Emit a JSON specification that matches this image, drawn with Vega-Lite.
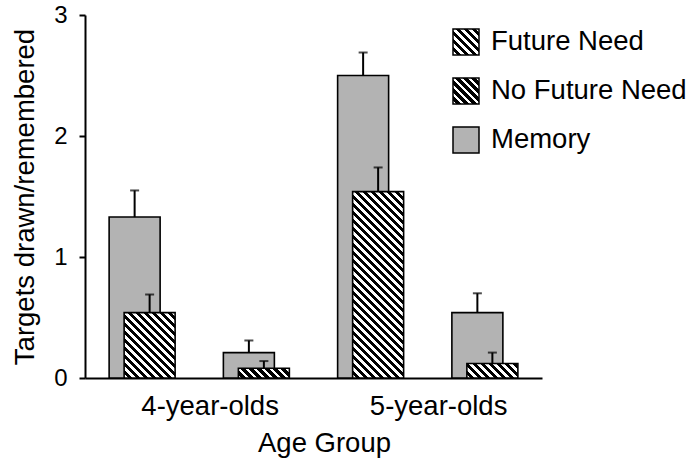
{
  "$schema": "https://vega.github.io/schema/vega-lite/v6.json",
  "width": 457,
  "height": 363,
  "autosize": "none",
  "padding": {"left": 85, "top": 15, "right": 150, "bottom": 85},
  "background": "white",
  "config": {
    "view": {"stroke": null},
    "font": "Liberation Sans",
    "axis": {"labelFont": "Liberation Sans", "titleFont": "Liberation Sans", "labelColor": "black", "titleColor": "black", "titleFontWeight": "normal", "grid": false, "domainColor": "black", "domainWidth": 2, "tickColor": "black", "tickWidth": 2},
    "legend": {"labelFont": "Liberation Sans", "labelColor": "black"}
  },
  "params": [
    {"name": "stopsFN", "value": [
      {"offset":0,"color":"#fff"},{"offset":0.0135,"color":"#fff"},{"offset":0.0135,"color":"#000"},{"offset":0.025,"color":"#000"},
      {"offset":0.025,"color":"#fff"},{"offset":0.0385,"color":"#fff"},{"offset":0.0385,"color":"#000"},{"offset":0.05,"color":"#000"},
      {"offset":0.05,"color":"#fff"},{"offset":0.0635,"color":"#fff"},{"offset":0.0635,"color":"#000"},{"offset":0.075,"color":"#000"},
      {"offset":0.075,"color":"#fff"},{"offset":0.0885,"color":"#fff"},{"offset":0.0885,"color":"#000"},{"offset":0.1,"color":"#000"},
      {"offset":0.1,"color":"#fff"},{"offset":0.1135,"color":"#fff"},{"offset":0.1135,"color":"#000"},{"offset":0.125,"color":"#000"},
      {"offset":0.125,"color":"#fff"},{"offset":0.1385,"color":"#fff"},{"offset":0.1385,"color":"#000"},{"offset":0.15,"color":"#000"},
      {"offset":0.15,"color":"#fff"},{"offset":0.1635,"color":"#fff"},{"offset":0.1635,"color":"#000"},{"offset":0.175,"color":"#000"},
      {"offset":0.175,"color":"#fff"},{"offset":0.1885,"color":"#fff"},{"offset":0.1885,"color":"#000"},{"offset":0.2,"color":"#000"},
      {"offset":0.2,"color":"#fff"},{"offset":0.2135,"color":"#fff"},{"offset":0.2135,"color":"#000"},{"offset":0.225,"color":"#000"},
      {"offset":0.225,"color":"#fff"},{"offset":0.2385,"color":"#fff"},{"offset":0.2385,"color":"#000"},{"offset":0.25,"color":"#000"},
      {"offset":0.25,"color":"#fff"},{"offset":0.2635,"color":"#fff"},{"offset":0.2635,"color":"#000"},{"offset":0.275,"color":"#000"},
      {"offset":0.275,"color":"#fff"},{"offset":0.2885,"color":"#fff"},{"offset":0.2885,"color":"#000"},{"offset":0.3,"color":"#000"},
      {"offset":0.3,"color":"#fff"},{"offset":0.3135,"color":"#fff"},{"offset":0.3135,"color":"#000"},{"offset":0.325,"color":"#000"},
      {"offset":0.325,"color":"#fff"},{"offset":0.3385,"color":"#fff"},{"offset":0.3385,"color":"#000"},{"offset":0.35,"color":"#000"},
      {"offset":0.35,"color":"#fff"},{"offset":0.3635,"color":"#fff"},{"offset":0.3635,"color":"#000"},{"offset":0.375,"color":"#000"},
      {"offset":0.375,"color":"#fff"},{"offset":0.3885,"color":"#fff"},{"offset":0.3885,"color":"#000"},{"offset":0.4,"color":"#000"},
      {"offset":0.4,"color":"#fff"},{"offset":0.4135,"color":"#fff"},{"offset":0.4135,"color":"#000"},{"offset":0.425,"color":"#000"},
      {"offset":0.425,"color":"#fff"},{"offset":0.4385,"color":"#fff"},{"offset":0.4385,"color":"#000"},{"offset":0.45,"color":"#000"},
      {"offset":0.45,"color":"#fff"},{"offset":0.4635,"color":"#fff"},{"offset":0.4635,"color":"#000"},{"offset":0.475,"color":"#000"},
      {"offset":0.475,"color":"#fff"},{"offset":0.4885,"color":"#fff"},{"offset":0.4885,"color":"#000"},{"offset":0.5,"color":"#000"},
      {"offset":0.5,"color":"#fff"},{"offset":0.5135,"color":"#fff"},{"offset":0.5135,"color":"#000"},{"offset":0.525,"color":"#000"},
      {"offset":0.525,"color":"#fff"},{"offset":0.5385,"color":"#fff"},{"offset":0.5385,"color":"#000"},{"offset":0.55,"color":"#000"},
      {"offset":0.55,"color":"#fff"},{"offset":0.5635,"color":"#fff"},{"offset":0.5635,"color":"#000"},{"offset":0.575,"color":"#000"},
      {"offset":0.575,"color":"#fff"},{"offset":0.5885,"color":"#fff"},{"offset":0.5885,"color":"#000"},{"offset":0.6,"color":"#000"},
      {"offset":0.6,"color":"#fff"},{"offset":0.6135,"color":"#fff"},{"offset":0.6135,"color":"#000"},{"offset":0.625,"color":"#000"},
      {"offset":0.625,"color":"#fff"},{"offset":0.6385,"color":"#fff"},{"offset":0.6385,"color":"#000"},{"offset":0.65,"color":"#000"},
      {"offset":0.65,"color":"#fff"},{"offset":0.6635,"color":"#fff"},{"offset":0.6635,"color":"#000"},{"offset":0.675,"color":"#000"},
      {"offset":0.675,"color":"#fff"},{"offset":0.6885,"color":"#fff"},{"offset":0.6885,"color":"#000"},{"offset":0.7,"color":"#000"},
      {"offset":0.7,"color":"#fff"},{"offset":0.7135,"color":"#fff"},{"offset":0.7135,"color":"#000"},{"offset":0.725,"color":"#000"},
      {"offset":0.725,"color":"#fff"},{"offset":0.7385,"color":"#fff"},{"offset":0.7385,"color":"#000"},{"offset":0.75,"color":"#000"},
      {"offset":0.75,"color":"#fff"},{"offset":0.7635,"color":"#fff"},{"offset":0.7635,"color":"#000"},{"offset":0.775,"color":"#000"},
      {"offset":0.775,"color":"#fff"},{"offset":0.7885,"color":"#fff"},{"offset":0.7885,"color":"#000"},{"offset":0.8,"color":"#000"}
    ]},
    {"name": "stopsNoFN", "value": [
      {"offset":0,"color":"#fff"},{"offset":0.01,"color":"#fff"},{"offset":0.01,"color":"#000"},{"offset":0.025,"color":"#000"},
      {"offset":0.025,"color":"#fff"},{"offset":0.035,"color":"#fff"},{"offset":0.035,"color":"#000"},{"offset":0.05,"color":"#000"},
      {"offset":0.05,"color":"#fff"},{"offset":0.06,"color":"#fff"},{"offset":0.06,"color":"#000"},{"offset":0.075,"color":"#000"},
      {"offset":0.075,"color":"#fff"},{"offset":0.085,"color":"#fff"},{"offset":0.085,"color":"#000"},{"offset":0.1,"color":"#000"},
      {"offset":0.1,"color":"#fff"},{"offset":0.11,"color":"#fff"},{"offset":0.11,"color":"#000"},{"offset":0.125,"color":"#000"},
      {"offset":0.125,"color":"#fff"},{"offset":0.135,"color":"#fff"},{"offset":0.135,"color":"#000"},{"offset":0.15,"color":"#000"},
      {"offset":0.15,"color":"#fff"},{"offset":0.16,"color":"#fff"},{"offset":0.16,"color":"#000"},{"offset":0.175,"color":"#000"},
      {"offset":0.175,"color":"#fff"},{"offset":0.185,"color":"#fff"},{"offset":0.185,"color":"#000"},{"offset":0.2,"color":"#000"},
      {"offset":0.2,"color":"#fff"},{"offset":0.21,"color":"#fff"},{"offset":0.21,"color":"#000"},{"offset":0.225,"color":"#000"},
      {"offset":0.225,"color":"#fff"},{"offset":0.235,"color":"#fff"},{"offset":0.235,"color":"#000"},{"offset":0.25,"color":"#000"},
      {"offset":0.25,"color":"#fff"},{"offset":0.26,"color":"#fff"},{"offset":0.26,"color":"#000"},{"offset":0.275,"color":"#000"}
    ]}
  ],
  "data": {"values": [
    {"slot": "4a", "age": "4-year-olds", "cond": "Future Need", "memory": 1.33, "memoryUpper": 1.55, "drawn": 0.54, "drawnUpper": 0.69},
    {"slot": "4b", "age": "4-year-olds", "cond": "No Future Need", "memory": 0.21, "memoryUpper": 0.31, "drawn": 0.08, "drawnUpper": 0.14},
    {"slot": "5a", "age": "5-year-olds", "cond": "Future Need", "memory": 2.5, "memoryUpper": 2.69, "drawn": 1.54, "drawnUpper": 1.74},
    {"slot": "5b", "age": "5-year-olds", "cond": "No Future Need", "memory": 0.54, "memoryUpper": 0.7, "drawn": 0.12, "drawnUpper": 0.21}
  ]},
  "encoding": {
    "x": {
      "field": "slot", "type": "nominal", "sort": ["4a", "4b", "5a", "5b"],
      "scale": {"paddingInner": 0, "paddingOuter": 0},
      "axis": {"title": "Age Group", "ticks": false, "tickSize": 0, "labelAngle": 0, "labelFontSize": 27.5, "labelPadding": 14, "labelOffset": 68, "labelExpr": "datum.value == '4a' ? '4-year-olds' : datum.value == '5a' ? '5-year-olds' : ''", "labelOverlap": false, "titleFontSize": 27.5, "titlePadding": 10, "titleX": 239}
    }
  },
  "layer": [
    {
      "mark": {"type": "bar", "width": 51, "xOffset": -7.5, "stroke": "black", "strokeWidth": 1.6},
      "encoding": {
        "y": {"field": "memory", "type": "quantitative", "title": "Targets drawn/remembered",
          "scale": {"domain": [0, 3], "nice": false},
          "axis": {"values": [0, 1, 2, 3], "format": "d", "labelFontSize": 24, "labelPadding": 12, "tickSize": 6, "labelFlush": false, "titleFontSize": 27.5, "titlePadding": 14}},
        "fill": {
          "datum": "Memory", "type": "nominal",
          "scale": {"domain": ["Future Need", "No Future Need", "Memory"],
            "range": [
              {"expr": "{gradient: 'linear', x1: 0, y1: 1, x2: 6.154, y2: -5.154, stops: stopsFN}"},
              {"expr": "{gradient: 'linear', x1: 0, y1: 1, x2: 6.154, y2: -5.154, stops: stopsNoFN}"},
              "#b3b3b3"
            ]},
          "legend": {"title": null, "orient": "none", "legendX": 367, "legendY": 13, "padding": 0, "symbolType": "square", "symbolSize": 676, "symbolStrokeColor": "black", "symbolStrokeWidth": 1.5, "labelFontSize": 27.5, "labelOffset": 11, "labelLimit": 0, "rowPadding": 17}
        }
      }
    },
    {
      "mark": {"type": "rule", "xOffset": -7.5, "strokeWidth": 2, "color": "black"},
      "encoding": {
        "y": {"field": "memory", "type": "quantitative", "title": "Targets drawn/remembered"},
        "y2": {"field": "memoryUpper"}
      }
    },
    {
      "mark": {"type": "tick", "xOffset": -7.5, "orient": "horizontal", "size": 9, "thickness": 2, "color": "black"},
      "encoding": {
        "y": {"field": "memoryUpper", "type": "quantitative", "title": "Targets drawn/remembered"}
      }
    },
    {
      "mark": {"type": "bar", "width": 51, "xOffset": 7.5, "stroke": "black", "strokeWidth": 1.6},
      "encoding": {
        "y": {"field": "drawn", "type": "quantitative", "title": "Targets drawn/remembered"},
        "fill": {"value": {"expr": "{gradient: 'linear', x1: 0, y1: 1, x2: 16320 / (2601 + 14641 * datum.drawn * datum.drawn), y2: 1 - 38720 * datum.drawn / (2601 + 14641 * datum.drawn * datum.drawn), stops: datum.cond == 'Future Need' ? stopsFN : stopsNoFN}"}}
      }
    },
    {
      "mark": {"type": "rule", "xOffset": 7.5, "strokeWidth": 2, "color": "black"},
      "encoding": {
        "y": {"field": "drawn", "type": "quantitative", "title": "Targets drawn/remembered"},
        "y2": {"field": "drawnUpper"}
      }
    },
    {
      "mark": {"type": "tick", "xOffset": 7.5, "orient": "horizontal", "size": 9, "thickness": 2, "color": "black"},
      "encoding": {
        "y": {"field": "drawnUpper", "type": "quantitative", "title": "Targets drawn/remembered"}
      }
    }
  ]
}
